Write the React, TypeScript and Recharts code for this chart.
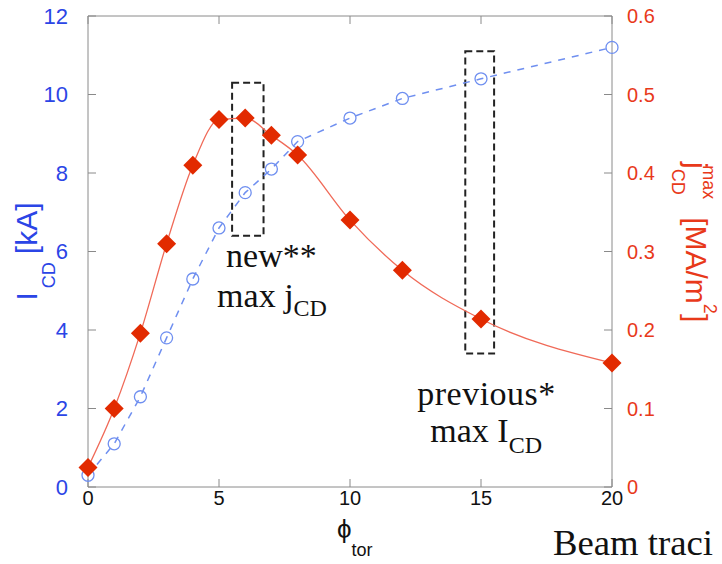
import { LineChart, Line, XAxis, YAxis, ReferenceArea } from 'recharts'

// toroidal launch angle and the two scans over it
const phiTor = [0, 1, 2, 3, 4, 5, 6, 7, 8, 10, 12, 15, 20]
const currentKA = [0.3, 1.1, 2.3, 3.8, 5.3, 6.6, 7.5, 8.1, 8.8, 9.4, 9.9, 10.4, 11.2]
const jMaxMA = [0.025, 0.1, 0.196, 0.31, 0.41, 0.468, 0.47, 0.448, 0.423, 0.34, 0.276, 0.214, 0.158]

const xTicks = [0, 5, 10, 15, 20]
const leftTicks = [0, 2, 4, 6, 8, 10, 12]
const rightTicks = [0, 0.1, 0.2, 0.3, 0.4, 0.5, 0.6]

const rows = phiTor.map((phi, i) => ({ phi, I: currentKA[i], j: jMaxMA[i] }))

const BLUE = '#2b45e6'
const RED = '#e8391a'
const SANS = '"Liberation Sans", Arial, sans-serif'
const SERIF = '"Liberation Serif", "Times New Roman", serif'

const Diamond = (props: any) => {
  const { cx, cy, index } = props
  const r = 9.5
  return (
    <path
      key={`dm-${index}`}
      d={`M${cx},${cy - r} L${cx + r},${cy} L${cx},${cy + r} L${cx - r},${cy} Z`}
      fill="#e22a00"
    />
  )
}

const leftLabel = (props: any) => {
  const { viewBox } = props
  const cy = viewBox.y + viewBox.height / 2
  return (
    <text
      transform={`translate(${viewBox.x + 37},${cy}) rotate(-90)`}
      textAnchor="middle"
      fill={BLUE}
      fontFamily={SANS}
      fontSize={30}
    >
      <tspan>I</tspan>
      <tspan fontSize={18} dy={18} dx={4}>CD</tspan>
      <tspan dy={-18} dx={8}>[kA]</tspan>
    </text>
  )
}

const rightLabel = (props: any) => {
  const { viewBox } = props
  return (
    <text
      transform={`translate(${viewBox.x + 74},${viewBox.y + 146}) rotate(90)`}
      fill={RED}
      fontFamily={SANS}
      fontSize={30}
    >
      <tspan>j</tspan>
      <tspan fontSize={18} dy={14}>CD</tspan>
      <tspan fontSize={18} dy={-31} dx={-29.5}>max</tspan>
      <tspan dy={17} dx={18}>[MA/m</tspan>
      <tspan fontSize={18} dy={-18}>2</tspan>
      <tspan dy={18}>]</tspan>
    </text>
  )
}

const xLabel = (props: any) => {
  const { viewBox } = props
  const cx = viewBox.x + viewBox.width / 2
  return (
    <text x={cx - 13} y={viewBox.y + 51} fill="#111" fontFamily={SANS} fontSize={26}>
      <tspan>ϕ</tspan>
      <tspan fontSize={18} dy={18}>tor</tspan>
    </text>
  )
}

const newNote = (props: any) => {
  const { viewBox } = props
  const x = viewBox.x
  const b = viewBox.y + viewBox.height
  return (
    <g fill="#111" fontFamily={SERIF} fontSize={34}>
      <text x={x - 6} y={b + 31}>new**</text>
      <text x={x - 15} y={b + 71}>
        <tspan>max j</tspan>
        <tspan fontSize={24} dy={9}>CD</tspan>
      </text>
    </g>
  )
}

const prevNote = (props: any) => {
  const { viewBox } = props
  const x = viewBox.x
  const b = viewBox.y + viewBox.height
  return (
    <g fill="#111" fontFamily={SERIF} fontSize={34}>
      <text x={x - 48} y={b + 51} textLength={138} lengthAdjust="spacing">previous*</text>
      <text x={x - 35} y={b + 88}>
        <tspan>max I</tspan>
        <tspan fontSize={24} dy={11}>CD</tspan>
      </text>
    </g>
  )
}

export default function App() {
  return (
    <div style={{ position: 'absolute', left: 0, top: 0, width: 722, height: 564, background: '#fff', overflow: 'hidden' }}>
      <LineChart width={722} height={564} data={rows} margin={{ top: 15, right: 0, bottom: 0, left: 0 }}>
        <XAxis
          dataKey="phi"
          type="number"
          domain={[0, 20]}
          ticks={xTicks}
          height={77}
          tickSize={-8}
          tickMargin={12}
          stroke="#8a8a8a"
          tick={{ fill: '#111', fontSize: 20, fontFamily: SANS }}
          label={xLabel}
        />
        <XAxis
          xAxisId="top"
          orientation="top"
          dataKey="phi"
          type="number"
          domain={[0, 20]}
          ticks={xTicks}
          height={1}
          tickSize={-8}
          stroke="#8a8a8a"
          tick={() => <g />}
        />
        <YAxis
          yAxisId="I"
          domain={[0, 12]}
          ticks={leftTicks}
          width={88}
          tickSize={-8}
          tickMargin={28}
          stroke="#8a8a8a"
          tick={{ fill: BLUE, fontSize: 22, fontFamily: SANS }}
          label={leftLabel}
        />
        <YAxis
          yAxisId="j"
          orientation="right"
          domain={[0, 0.6]}
          ticks={rightTicks}
          width={110}
          tickSize={-8}
          tickMargin={23}
          stroke="#8a8a8a"
          tickFormatter={(v: number) => (v === 0 ? '0' : v.toFixed(1))}
          tick={{ fill: RED, fontSize: 20, fontFamily: SANS }}
          label={rightLabel}
        />
        <ReferenceArea
          yAxisId="I"
          x1={5.5}
          x2={6.7}
          y1={6.4}
          y2={10.3}
          fill="none"
          stroke="#222"
          strokeWidth={2}
          strokeDasharray="7 4"
          label={newNote}
        />
        <ReferenceArea
          yAxisId="I"
          x1={14.4}
          x2={15.5}
          y1={3.4}
          y2={11.1}
          fill="none"
          stroke="#222"
          strokeWidth={2}
          strokeDasharray="7 4"
          label={prevNote}
        />
        <Line
          yAxisId="I"
          dataKey="I"
          type="linear"
          stroke="#6f8ff0"
          strokeWidth={1.5}
          strokeDasharray="7 7"
          dot={{ r: 6, stroke: '#6f8ff0', strokeWidth: 1.3, fill: 'none', strokeDasharray: '' }}
          isAnimationActive={false}
        />
        <Line
          yAxisId="j"
          dataKey="j"
          type="monotone"
          stroke="#f06a58"
          strokeWidth={1.3}
          dot={Diamond}
          isAnimationActive={false}
        />
      </LineChart>
      <svg width={722} height={564} style={{ position: 'absolute', left: 0, top: 0, pointerEvents: 'none' }}>
        <text x={553} y={555} fontFamily={SERIF} fontSize={35} fill="#111" textLength={160} lengthAdjust="spacingAndGlyphs">
          Beam traci
        </text>
      </svg>
    </div>
  )
}
